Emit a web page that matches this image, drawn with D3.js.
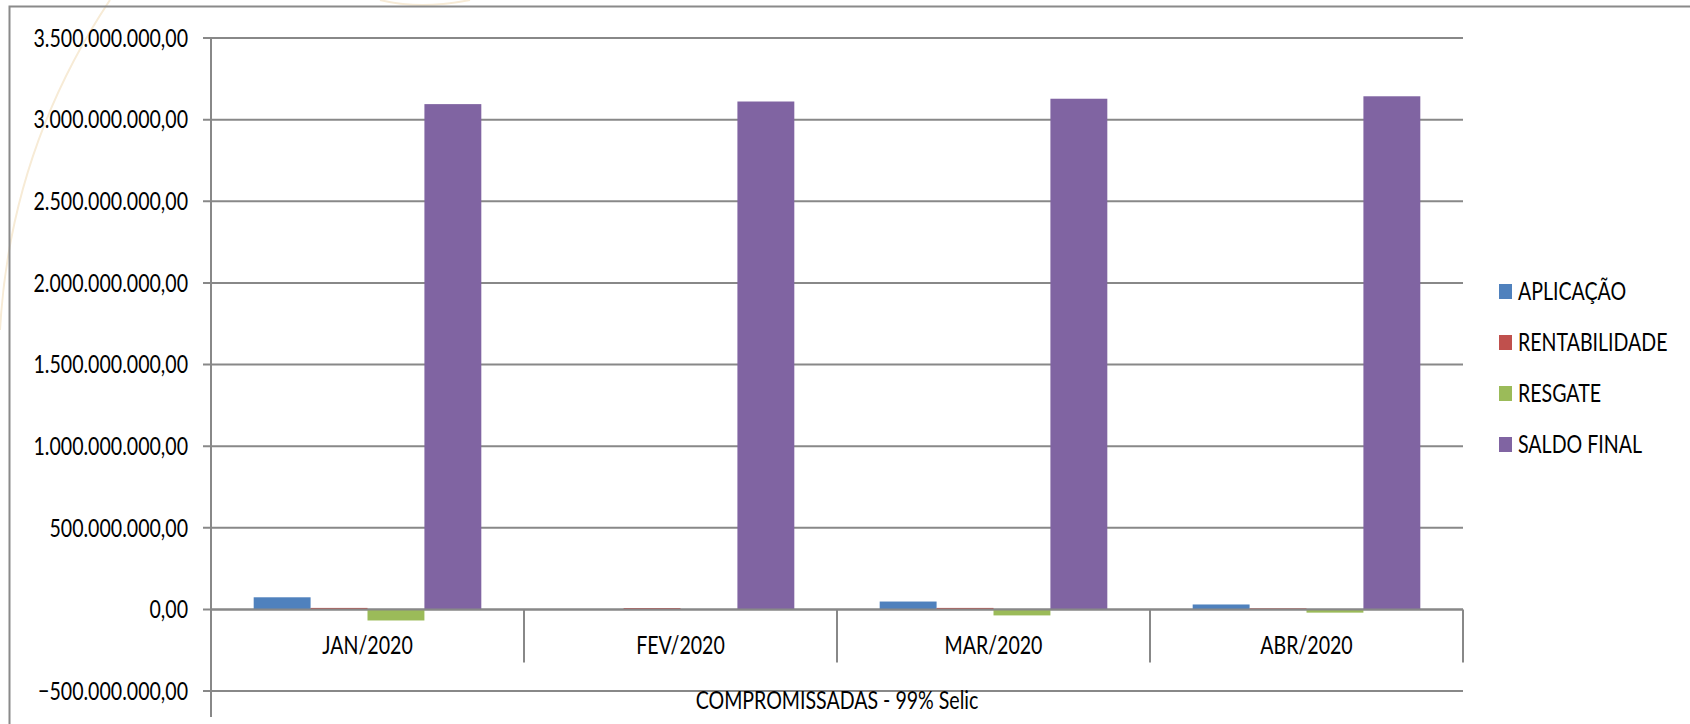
<!DOCTYPE html>
<html>
<head>
<meta charset="utf-8">
<script src="https://cdn.jsdelivr.net/npm/d3@7"></script>
<style>
  html, body { margin: 0; padding: 0; background: #fff; }
  svg text { font-family: "Liberation Sans Narrow", "Lato", sans-serif; fill: #000; }
</style>
</head>
<body>
<svg id="chart"></svg>
<script>
// chart values
const categories = ["JAN/2020", "FEV/2020", "MAR/2020", "ABR/2020"];
const seriesNames = ["APLICAÇÃO", "RENTABILIDADE", "RESGATE", "SALDO FINAL"];
const aplicacao = [74000000, 0, 48000000, 30000000];
const rentabilidade = [9000000, 8000000, 9000000, 6000000];
const resgate = [-68000000, 0, -37000000, -20000000];
const saldoFinal = [3095000000, 3111000000, 3128000000, 3143000000];
const yTicks = [-500000000, 0, 500000000, 1000000000, 1500000000, 2000000000, 2500000000, 3000000000, 3500000000];
const colors = ["#4F81BD", "#C0504D", "#9BBB59", "#8064A2"];
const axisTitle = "COMPROMISSADAS - 99% Selic";

const width = 1690, height = 724;
const margin = {top: 38, right: 227, bottom: 33, left: 211};
const fontSize = 25;
const emSize = 23; // width the text should have, as Calibri 23px

const svg = d3.select("#chart").attr("width", width).attr("height", height);

// faint watermark strokes behind the chart
const wm = svg.append("g").attr("fill", "none").attr("stroke", "#f7ebd6").attr("stroke-width", 2);
wm.append("path").attr("d", "M0,330 Q10,150 110,0");
wm.append("path").attr("d", "M380,0 Q420,10 470,0");

// outer frame (right/bottom edges fall outside the picture)
svg.append("path")
    .attr("d", `M9.5,${height + 2} V6.5 H${width + 2}`)
    .attr("fill", "none").attr("stroke", "#8a8a8a").attr("stroke-width", 2);

const y = d3.scaleLinear()
    .domain([yTicks[0], yTicks[yTicks.length - 1]])
    .range([height - margin.bottom, margin.top]);
const x = d3.scaleBand()
    .domain(categories)
    .range([margin.left, width - margin.right]);
const xs = d3.scaleBand()
    .domain(seriesNames)
    .range([0, x.bandwidth()])
    .paddingOuter(0.75);

// horizontal squish so the substitute font matches Calibri widths
const probe = svg.append("text").style("font-size", fontSize + "px").text("RENTABILIDADE");
const k = (6.508 * emSize) / probe.node().getComputedTextLength();
probe.remove();

function label(g, tx, ty, str, anchor) {
  return g.append("text")
      .attr("transform", `translate(${tx},${ty}) scale(${k},1)`)
      .attr("text-anchor", anchor)
      .attr("dy", "0.35em")
      .style("font-size", fontSize + "px")
      .text(str);
}

const fmt = v => d3.format(",.2f")(v).replace(/,/g, "#").replace(".", ",").replace(/#/g, ".");

// gridlines + y axis
const grid = svg.append("g").attr("stroke", "#888").attr("stroke-width", 2);
yTicks.forEach(t => {
  grid.append("line")
      .attr("x1", margin.left - 8).attr("x2", width - margin.right)
      .attr("y1", y(t)).attr("y2", y(t));
  label(svg, margin.left - 23, y(t), fmt(t), "end");
});
grid.append("line")
    .attr("x1", margin.left).attr("x2", margin.left)
    .attr("y1", margin.top - 1).attr("y2", height - 7);

// bars
const seriesValues = [aplicacao, rentabilidade, resgate, saldoFinal];
const barData = [];
categories.forEach((c, i) => {
  seriesNames.forEach((s, j) => barData.push({cat: c, name: s, value: seriesValues[j][i], color: colors[j]}));
});
svg.append("g").selectAll("rect")
    .data(barData)
    .join("rect")
    .attr("x", d => x(d.cat) + xs(d.name))
    .attr("width", xs.bandwidth())
    .attr("y", d => y(Math.max(0, d.value)))
    .attr("height", d => Math.max(Math.abs(y(d.value) - y(0)), d.value !== 0 ? 1 : 0))
    .attr("fill", d => d.color);

// category axis on the zero line
const cax = svg.append("g").attr("stroke", "#888").attr("stroke-width", 2);
cax.append("line")
    .attr("x1", margin.left).attr("x2", width - margin.right)
    .attr("y1", y(0)).attr("y2", y(0));
categories.forEach((c, i) => {
  const bx = x(c) + x.bandwidth();
  cax.append("line")
      .attr("x1", bx).attr("x2", bx)
      .attr("y1", y(0)).attr("y2", y(0) + 53);
  label(svg, x(c) + x.bandwidth() / 2, y(0) + 36, c, "middle");
});

// axis title
label(svg, (margin.left + width - margin.right) / 2, height - 24, axisTitle, "middle");

// legend
const legendX = width - margin.right + 36;
seriesNames.forEach((s, j) => {
  const ly = 291 + j * 51;
  svg.append("rect")
      .attr("x", legendX).attr("y", ly - 7)
      .attr("width", 13).attr("height", 15)
      .attr("fill", colors[j]);
  label(svg, legendX + 19, ly, s, "start");
});
</script>
</body>
</html>
